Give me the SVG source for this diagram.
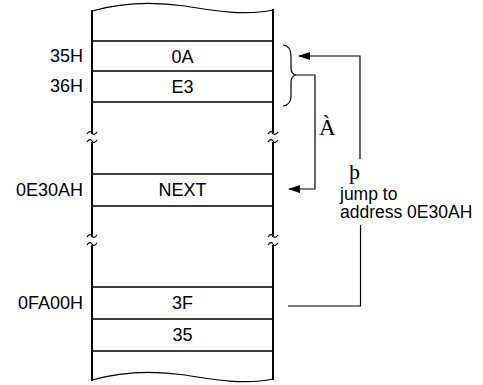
<svg xmlns="http://www.w3.org/2000/svg" width="483" height="385" viewBox="0 0 483 385">
<defs>
<style>
.col{fill:none;stroke:#000;stroke-width:2}
.row{fill:none;stroke:#000;stroke-width:1.3}
.thin{fill:none;stroke:#000;stroke-width:1.2}
.brk{fill:none;stroke:#000;stroke-width:1.2}
.t{font-family:"Liberation Sans",Arial,sans-serif;font-size:18px;fill:#000}
.n{font-family:"Liberation Sans",Arial,sans-serif;font-size:17.5px;fill:#000}
.c{text-anchor:middle}
.r{text-anchor:end}
.s{font-family:"Liberation Serif","Times New Roman",serif;font-size:23px;fill:#000}
</style>
<marker id="ah" markerWidth="12" markerHeight="8" refX="11" refY="4" orient="auto" markerUnits="userSpaceOnUse">
<path d="M0,0 L12,4 L0,8 Z" fill="#000"/>
</marker>
</defs>
<rect width="483" height="385" fill="#fff"/>
<g id="memory">
<path class="thin" d="M92,11 C120,3 150,1 185,6 C215,11 245,16 273,10"/>
<path class="thin" d="M92,380 C120,372 150,370 185,375 C215,380 245,385 273,379"/>
<path class="col" d="M92,10 V134 M92,142 V237 M92,245 V381 M273,9 V134 M273,142 V237 M273,245 V380"/>
<path class="brk" d="M87,134 C89,131 91,131 92,133 C93,135 95,135 97,132 M87,142 C89,139 91,139 92,141 C93,143 95,143 97,140 M268,134 C270,131 272,131 273,133 C274,135 276,135 278,132 M268,142 C270,139 272,139 273,141 C274,143 276,143 278,140 M87,237 C89,234 91,234 92,236 C93,238 95,238 97,235 M87,245 C89,242 91,242 92,244 C93,246 95,246 97,243 M268,237 C270,234 272,234 273,236 C274,238 276,238 278,235 M268,245 C270,242 272,242 273,244 C274,246 276,246 278,243"/>
<path class="row" d="M92,41 H273 M92,71 H273 M92,102 H273 M92,174 H273 M92,206 H273 M92,287 H273 M92,319 H273 M92,351 H273"/>
</g>
<g id="cells">
<text class="t c" x="182.5" y="63">0A</text>
<text class="t c" x="182.5" y="93">E3</text>
<text class="t c" x="182.5" y="196">NEXT</text>
<text class="t c" x="182.5" y="309">3F</text>
<text class="t c" x="182.5" y="341">35</text>
</g>
<g id="addresses">
<text class="t r" x="83" y="62">35H</text>
<text class="t r" x="83" y="92">36H</text>
<text class="t r" x="83" y="196">0E30AH</text>
<text class="t r" x="83" y="309">0FA00H</text>
</g>
<g id="brace">
<path class="thin" d="M283,45 Q291,46 291,56 L291,68 Q291,74 296,75 Q291,76 291,82 L291,96 Q291,105 283,106"/>
</g>
<g id="connectors">
<polyline class="thin" points="296,75 315,75 315,189 289,189" marker-end="url(#ah)"/>
<polyline class="thin" points="360,159 360,56 299,56" marker-end="url(#ah)"/>
<polyline class="thin" points="288,306 360.5,306 360.5,225"/>
</g>
<g id="labels">
<text class="s" x="319" y="135">À</text>
<text class="s" x="349" y="179" style="font-size:22px">þ</text>
<text class="n" x="340" y="200">jump to</text>
<text class="n" x="340" y="218">address 0E30AH</text>
</g>
</svg>
